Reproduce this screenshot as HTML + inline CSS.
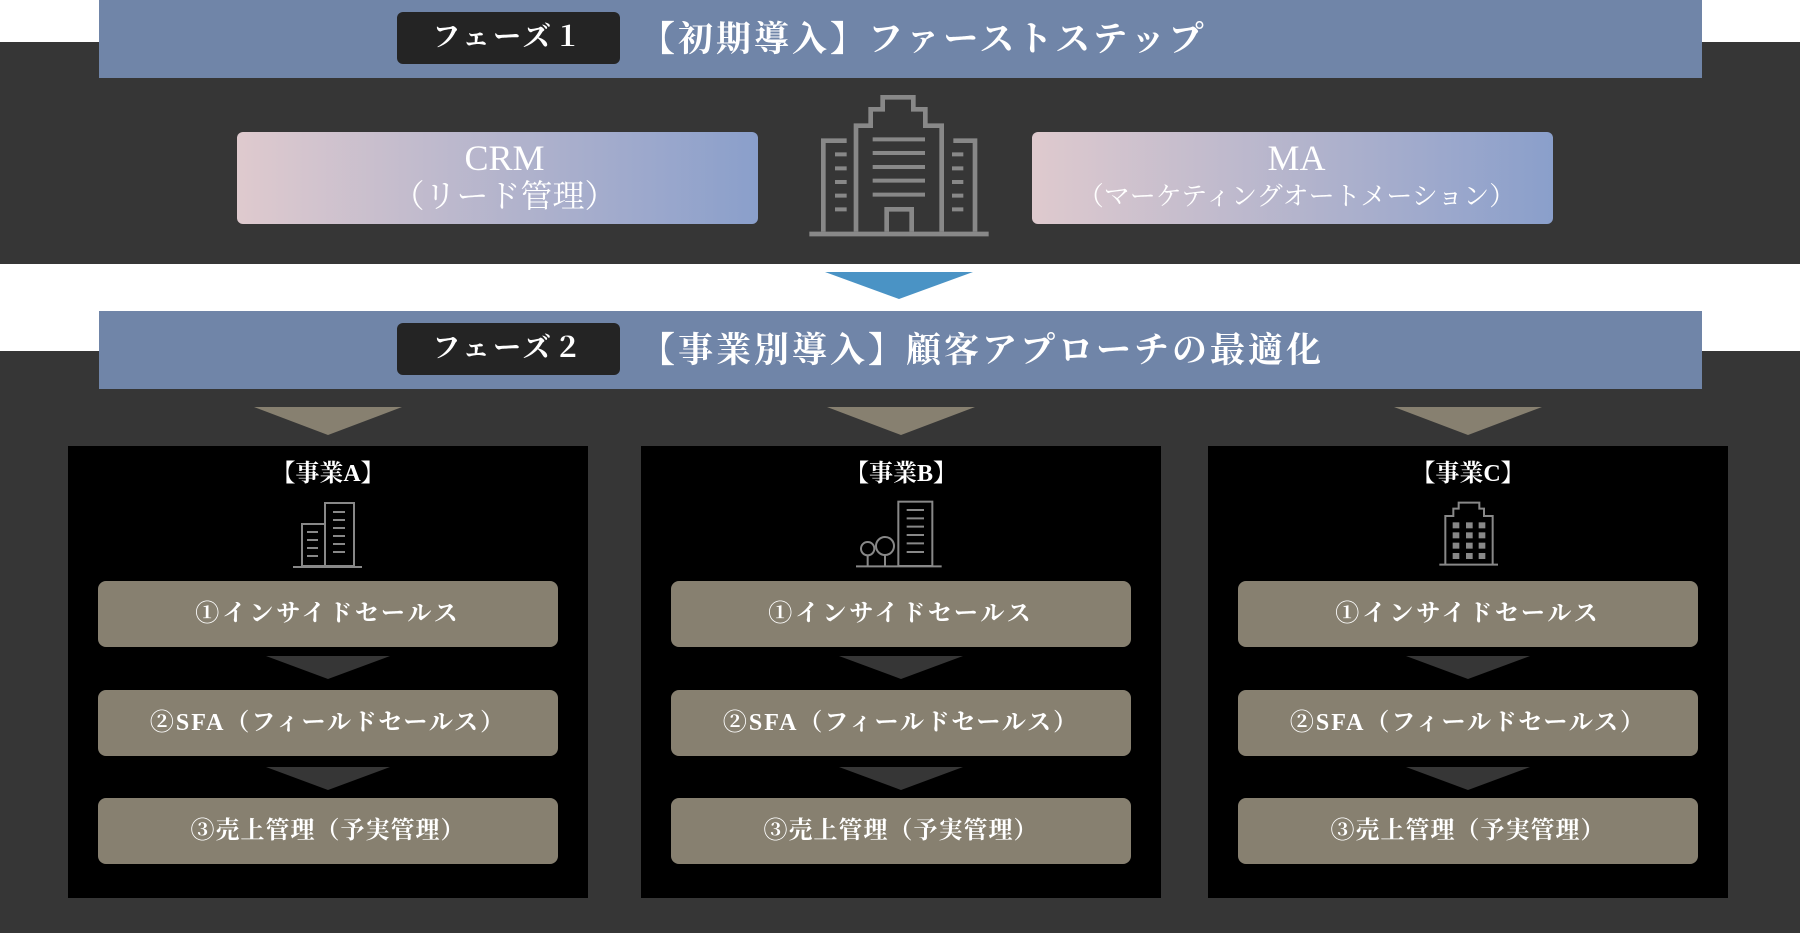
<!DOCTYPE html>
<html><head><meta charset="utf-8"><style>
*{margin:0;padding:0;box-sizing:border-box}
body{width:1800px;height:933px;background:#fff;position:relative;overflow:hidden;font-family:"Liberation Serif","Noto Serif CJK SC",serif;color:#fff}
.a{position:absolute}
.hdr{background:#7085a8;left:99px;width:1603px;height:78px}
.badge{background:#242424;border-radius:6px;width:223px;height:52px;font-size:28px;font-weight:bold;text-align:center;line-height:52px;letter-spacing:3px}
.ttl{font-size:35px;font-weight:bold;line-height:78px;letter-spacing:3px}
.grad{background:linear-gradient(90deg,#dfcace,#8a9fcb);border-radius:6px;text-align:center}
.box{background:#000;width:520px;height:452px;top:446px}
.pill{background:#878070;border-radius:8px;width:460px;height:66px;font-size:24px;font-weight:bold;text-align:center;line-height:66px;letter-spacing:3px}
.tri{width:0;height:0;border-left:74px solid transparent;border-right:74px solid transparent;border-top:28px solid #878070}
.stri{width:0;height:0;border-left:62px solid transparent;border-right:62px solid transparent;border-top:23px solid #363636}
.bt{font-size:24px;font-weight:bold;text-align:center;width:520px;top:453px}
</style></head><body>
<div class="a" style="left:0;top:42px;width:1800px;height:222px;background:#363636"></div>
<div class="a" style="left:0;top:351px;width:1800px;height:582px;background:#363636"></div>
<div class="a hdr" style="top:0"></div>
<div class="a badge" style="left:397px;top:12px">フェーズ１</div>
<div class="a ttl" style="left:640px;top:1px">【初期導入】ファーストステップ</div>
<div class="a grad" style="left:237px;top:132px;width:521px;height:92px;padding-left:14px"><div style="font-size:36px;line-height:36px;margin-top:8px">CRM</div><div style="font-size:32px;line-height:40px">（リード管理）</div></div>
<div class="a grad" style="left:1032px;top:132px;width:521px;height:92px;padding-left:8px"><div style="font-size:36px;line-height:36px;margin-top:8px">MA</div><div style="font-size:26px;line-height:42px">（マーケティングオートメーション）</div></div>
<svg class="a" style="left:800px;top:90px" width="200" height="150" viewBox="0 0 600 450" fill="none" stroke="#888" stroke-width="14">
<polyline points="168,425 168,107 212,107 212,58 248,58 248,22 340,22 340,58 376,58 376,107 425,107 425,425"/>
<polyline points="70,425 70,152 140,152"/><polyline points="460,152 525,152 525,425"/>
<line x1="28" y1="432" x2="566" y2="432"/>
<g stroke-width="12"><line x1="218" y1="148" x2="375" y2="148"/><line x1="218" y1="189" x2="375" y2="189"/><line x1="218" y1="231" x2="375" y2="231"/><line x1="218" y1="272" x2="375" y2="272"/><line x1="218" y1="314" x2="375" y2="314"/>
<path d="M105 193h35M105 235h35M105 276h35M105 317h35M105 358h35M456 193h34M456 235h34M456 276h34M456 317h34M456 358h34"/></g>
<polyline points="260,425 260,358 335,358 335,425"/>
</svg>
<div class="a" style="left:825px;top:272px;width:0;height:0;border-left:74px solid transparent;border-right:74px solid transparent;border-top:27px solid #4a93c5"></div>
<div class="a hdr" style="top:311px"></div>
<div class="a badge" style="left:397px;top:323px">フェーズ２</div>
<div class="a ttl" style="left:640px;top:312px">【事業別導入】顧客アプローチの最適化</div>

<div class="a tri" style="left:254px;top:407px"></div>
<div class="a tri" style="left:827px;top:407px"></div>
<div class="a tri" style="left:1394px;top:407px"></div>

<div class="a box" style="left:68px"></div>
<div class="a box" style="left:641px"></div>
<div class="a box" style="left:1208px"></div>
<div class="a bt" style="left:68px">【事業A】</div>
<div class="a bt" style="left:641px">【事業B】</div>
<div class="a bt" style="left:1208px">【事業C】</div>

<svg class="a" style="left:290px;top:500px" width="76" height="70" fill="none" stroke="#888" stroke-width="2">
<rect x="35" y="3" width="29" height="63"/><rect x="12" y="24" width="23" height="42"/><line x1="3" y1="67" x2="72" y2="67"/>
<path d="M43 12h12M43 20h12M43 28h12M43 36h12M43 44h12M43 52h12M17 32h11M17 40h11M17 48h11M17 56h11"/></svg>
<svg class="a" style="left:840px;top:490px" width="120" height="80" viewBox="0 0 360 240" fill="none" stroke="#888" stroke-width="6">
<rect x="175" y="35" width="102" height="193"/><path d="M200 60h52M200 85h52M200 110h52M200 135h52M200 160h52M200 186h52"/>
<circle cx="83" cy="176" r="20"/><circle cx="135" cy="168" r="27"/><path d="M83 196v32M135 195v33"/><line x1="48" y1="229" x2="305" y2="229"/></svg>
<svg class="a" style="left:1420px;top:490px" width="100" height="80" viewBox="0 0 300 240" fill="none" stroke="#888" stroke-width="6">
<polyline points="76,222 76,78 100,78 100,56 116,56 116,38 178,38 178,56 192,56 192,78 218,78 218,222"/><line x1="58" y1="224" x2="234" y2="224"/>
<g fill="#888" stroke="none"><rect x="98" y="97" width="20" height="18"/><rect x="138" y="97" width="20" height="18"/><rect x="176" y="97" width="20" height="18"/><rect x="98" y="127" width="20" height="18"/><rect x="138" y="127" width="20" height="18"/><rect x="176" y="127" width="20" height="18"/><rect x="98" y="158" width="20" height="18"/><rect x="138" y="158" width="20" height="18"/><rect x="176" y="158" width="20" height="18"/><rect x="98" y="189" width="20" height="18"/><rect x="138" y="189" width="20" height="18"/><rect x="176" y="189" width="20" height="18"/></g></svg>

<div class="a pill" style="left:98px;top:581px">①インサイドセールス</div>
<div class="a pill" style="left:671px;top:581px">①インサイドセールス</div>
<div class="a pill" style="left:1238px;top:581px">①インサイドセールス</div>
<div class="a stri" style="left:266px;top:656px"></div><div class="a stri" style="left:839px;top:656px"></div><div class="a stri" style="left:1406px;top:656px"></div>
<div class="a pill" style="left:98px;top:690px;letter-spacing:2px">②SFA（フィールドセールス）</div>
<div class="a pill" style="left:671px;top:690px;letter-spacing:2px">②SFA（フィールドセールス）</div>
<div class="a pill" style="left:1238px;top:690px;letter-spacing:2px">②SFA（フィールドセールス）</div>
<div class="a stri" style="left:266px;top:767px"></div><div class="a stri" style="left:839px;top:767px"></div><div class="a stri" style="left:1406px;top:767px"></div>
<div class="a pill" style="left:98px;top:798px;letter-spacing:1px">③売上管理（予実管理）</div>
<div class="a pill" style="left:671px;top:798px;letter-spacing:1px">③売上管理（予実管理）</div>
<div class="a pill" style="left:1238px;top:798px;letter-spacing:1px">③売上管理（予実管理）</div>
</body></html>
